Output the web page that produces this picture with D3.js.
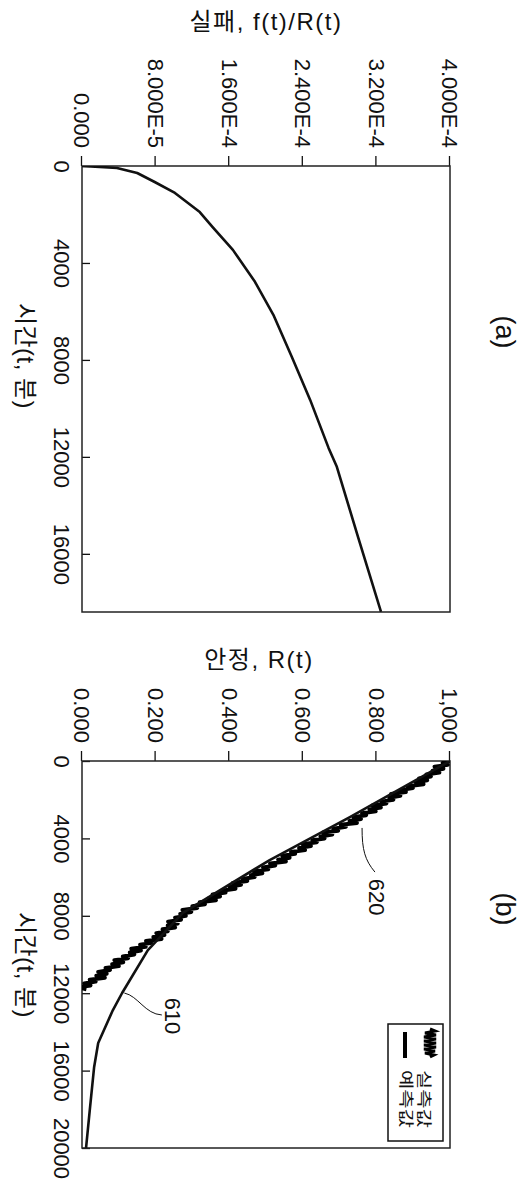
<!DOCTYPE html>
<html>
<head>
<meta charset="utf-8">
<script src="https://cdn.jsdelivr.net/npm/d3@7"></script>
<style>
  body { margin: 0; background: #fff; }
  svg { display: block; }
</style>
</head>
<body>
<script>
// (a) failure rate f(t)/R(t) vs time
const failTime = [0, 80, 290, 660, 1110, 1900, 2520, 3460, 4780, 6140, 7870, 9650, 11630, 12410, 15300, 18390];
const failValue = [0, 3.8e-5, 6.0e-5, 7.9e-5, 1.01e-4, 1.28e-4, 1.42e-4, 1.64e-4, 1.88e-4, 2.08e-4, 2.28e-4, 2.48e-4, 2.68e-4, 2.77e-4, 3.0e-4, 3.25e-4];
const failTicks = [0, 8e-5, 1.6e-4, 2.4e-4, 3.2e-4, 4e-4];
const failTickLabels = ["0.000", "8.000E-5", "1.600E-4", "2.400E-4", "3.200E-4", "4.000E-4"];
const timeTicksA = [0, 4000, 8000, 12000, 16000];

// (b) reliability R(t): predicted (610) and measured (620)
const predTime = [0, 2900, 5120, 7850, 9770, 11990, 12870, 14570, 15810, 17880, 20000];
const predR = [1.0, 0.728, 0.51, 0.274, 0.179, 0.109, 0.084, 0.044, 0.033, 0.022, 0.011];
const measTime = [0, 100, 200, 300, 400, 500, 600, 700, 800, 900, 1000, 1100, 1200, 1300, 1400, 1500, 1600, 1700, 1800, 1900,
  2000, 2100, 2200, 2300, 2400, 2500, 2600, 2700, 2800, 2900, 3000, 3100, 3200, 3300, 3400, 3500, 3600, 3700, 3800, 3900,
  4000, 4100, 4200, 4300, 4400, 4500, 4600, 4700, 4800, 4900, 5000, 5100, 5200, 5300, 5400, 5500, 5600, 5700, 5800, 5900,
  6000, 6100, 6200, 6300, 6400, 6500, 6600, 6700, 6800, 6900, 7000, 7100, 7200, 7300, 7400, 7500, 7600, 7700, 7800, 7900,
  8000, 8100, 8200, 8300, 8400, 8500, 8600, 8700, 8800, 8900, 9000, 9100, 9200, 9300, 9400, 9500, 9600, 9700, 9800, 9900,
  10000, 10100, 10200, 10300, 10400, 10500, 10600, 10700, 10800, 10900, 11000, 11100, 11200, 11300, 11400, 11500, 11600, 11700, 11800];
const measR = [1.000, 0.980, 0.994, 0.958, 0.982, 0.953, 0.971, 0.936, 0.948, 0.916, 0.938, 0.907, 0.928, 0.885, 0.899, 0.866, 0.880, 0.840, 0.865, 0.835,
  0.846, 0.814, 0.827, 0.789, 0.812, 0.781, 0.798, 0.761, 0.772, 0.738, 0.758, 0.727, 0.747, 0.703, 0.717, 0.683, 0.696, 0.655, 0.680, 0.648,
  0.659, 0.626, 0.638, 0.599, 0.622, 0.590, 0.606, 0.568, 0.579, 0.544, 0.564, 0.533, 0.554, 0.511, 0.525, 0.492, 0.506, 0.466, 0.490, 0.459,
  0.469, 0.436, 0.449, 0.410, 0.432, 0.401, 0.417, 0.379, 0.390, 0.355, 0.375, 0.344, 0.364, 0.320, 0.334, 0.300, 0.313, 0.273, 0.297, 0.267,
  0.282, 0.253, 0.269, 0.234, 0.260, 0.233, 0.253, 0.219, 0.233, 0.202, 0.224, 0.194, 0.216, 0.174, 0.189, 0.158, 0.173, 0.134, 0.160, 0.130,
  0.142, 0.111, 0.125, 0.088, 0.112, 0.082, 0.100, 0.064, 0.076, 0.044, 0.067, 0.039, 0.062, 0.021, 0.037, 0.006, 0.023, -0.010, 0.012];
const relTicks = [0, 0.2, 0.4, 0.6, 0.8, 1.0];
const relTickLabels = ["0.000", "0.200", "0.400", "0.600", "0.800", "1,000"];
const timeTicksB = [0, 4000, 8000, 12000, 16000, 20000];
const legendLabels = ["실측값", "예측값"];

const W = 525, H = 1180;
const FONT = "'Liberation Sans', Arial, 'Noto Sans CJK KR', sans-serif";
const INK = "#111";

const svg = d3.select("body").append("svg")
  .attr("width", W)
  .attr("height", H)
  .style("font-family", FONT);

// whole figure is drawn landscape then turned 90deg clockwise
const root = svg.append("g").attr("transform", `translate(${W},0) rotate(90)`);

function panel(o) {
  const g = root.append("g");
  const x = d3.scaleLinear().domain(o.xDomain).range(o.xRange);
  const y = d3.scaleLinear().domain(o.yDomain).range([443, 75]);

  g.append("clipPath").attr("id", o.id + "-clip")
    .append("rect")
    .attr("x", o.xRange[0]).attr("y", 75)
    .attr("width", o.xRange[1] - o.xRange[0]).attr("height", 368);

  const xAxis = g.append("g")
    .attr("transform", "translate(0,443)")
    .call(d3.axisBottom(x).tickValues(o.xTicks).tickSize(-8).tickPadding(12).tickFormat(d3.format("d")));
  const yAxis = g.append("g")
    .attr("transform", `translate(${o.xRange[0]},0)`)
    .call(d3.axisLeft(y).tickValues(o.yTicks).tickSize(10).tickPadding(8).tickFormat((d, i) => o.yLabels[i]));

  [xAxis, yAxis].forEach(a => {
    a.select(".domain").remove();
    a.selectAll("line").attr("stroke", INK).attr("stroke-width", 1.3);
    a.selectAll("text").attr("fill", INK).style("font-size", "22px").style("font-family", FONT);
  });

  g.append("rect")
    .attr("x", o.xRange[0]).attr("y", 75)
    .attr("width", o.xRange[1] - o.xRange[0]).attr("height", 368)
    .attr("fill", "none").attr("stroke", "#222").attr("stroke-width", 1.5);

  g.append("text")
    .attr("transform", `translate(${o.yTitlePos[0]},${o.yTitlePos[1]}) rotate(-90)`)
    .attr("text-anchor", "middle").attr("dy", "0.35em")
    .style("font-size", "24px").style("letter-spacing", "1.5px")
    .attr("fill", INK)
    .text(o.yTitle);

  g.append("text")
    .attr("x", o.xTitlePos[0]).attr("y", o.xTitlePos[1])
    .attr("text-anchor", "middle").attr("dy", "0.35em")
    .style("font-size", "24px").style("letter-spacing", "0.5px")
    .attr("fill", INK)
    .text("시간(t, 분)");

  g.append("text")
    .attr("x", o.tagPos[0]).attr("y", o.tagPos[1])
    .attr("text-anchor", "middle").attr("dy", "0.35em")
    .style("font-size", "27px")
    .attr("fill", INK)
    .text(o.tag);

  return { g, x, y };
}

// (a)
const pa = panel({
  id: "pa", tag: "(a)",
  xDomain: [0, 18400], xRange: [166, 612], xTicks: timeTicksA,
  yDomain: [0, 4e-4], yTicks: failTicks, yLabels: failTickLabels,
  yTitle: "실패, f(t)/R(t)", yTitlePos: [22, 259],
  xTitlePos: [356, 500], tagPos: [332, 20]
});

pa.g.append("path")
  .datum(d3.zip(failTime, failValue))
  .attr("clip-path", "url(#pa-clip)")
  .attr("fill", "none").attr("stroke", INK).attr("stroke-width", 2.6)
  .attr("stroke-linejoin", "round")
  .attr("d", d3.line().x(d => pa.x(d[0])).y(d => pa.y(d[1])));

// (b)
const pb = panel({
  id: "pb", tag: "(b)",
  xDomain: [0, 20000], xRange: [761, 1148], xTicks: timeTicksB,
  yDomain: [0, 1], yTicks: relTicks, yLabels: relTickLabels,
  yTitle: "안정, R(t)", yTitlePos: [660, 266],
  xTitlePos: [965, 500], tagPos: [909, 20]
});

pb.g.append("path")
  .datum(d3.zip(measTime, measR))
  .attr("clip-path", "url(#pb-clip)")
  .attr("fill", "none").attr("stroke", "#000").attr("stroke-width", 4)
  .attr("stroke-linejoin", "round")
  .attr("d", d3.line().x(d => pb.x(d[0])).y(d => pb.y(d[1])));

pb.g.append("path")
  .datum(d3.zip(predTime, predR))
  .attr("clip-path", "url(#pb-clip)")
  .attr("fill", "none").attr("stroke", INK).attr("stroke-width", 2.6)
  .attr("stroke-linejoin", "round")
  .attr("d", d3.line().x(d => pb.x(d[0])).y(d => pb.y(d[1])));

// callouts 620 / 610
const callouts = [
  { label: "620", from: [3460, 0.761], to: [5740, 0.796], at: [7030, 0.802], c1: [22, 0], c2: [-12, 10] },
  { label: "610", from: [11990, 0.115], to: [13126, 0.217], at: [13178, 0.247], c1: [3, -14], c2: [-1, 17] }
];
callouts.forEach(c => {
  const s = [pb.x(c.from[0]), pb.y(c.from[1])];
  const e = [pb.x(c.to[0]), pb.y(c.to[1])];
  const p = d3.path();
  p.moveTo(s[0], s[1]);
  p.bezierCurveTo(s[0] + c.c1[0], s[1] + c.c1[1], e[0] + c.c2[0], e[1] + c.c2[1], e[0], e[1]);
  pb.g.append("path").attr("d", p.toString())
    .attr("fill", "none").attr("stroke", INK).attr("stroke-width", 1);
  pb.g.append("text")
    .attr("x", pb.x(c.at[0])).attr("y", pb.y(c.at[1]))
    .attr("text-anchor", "middle").attr("dy", "0.35em")
    .style("font-size", "22px").attr("fill", INK)
    .text(c.label);
});

// legend
const lg = pb.g.append("g").attr("transform", "translate(1024,82)");
lg.append("rect").attr("width", 117).attr("height", 55)
  .attr("fill", "#fff").attr("stroke", INK).attr("stroke-width", 1.5);

const squiggle = [[5, 13], [7, 8], [9, 18], [11, 7], [13, 19], [15, 7], [17, 19], [19, 7], [21, 19], [23, 7], [25, 19], [27, 8], [29, 18], [31, 9], [33, 13]];
lg.append("path")
  .attr("d", d3.line()(squiggle))
  .attr("fill", "none").attr("stroke", "#000").attr("stroke-width", 3);
lg.append("line").attr("x1", 8).attr("x2", 34).attr("y1", 38).attr("y2", 38)
  .attr("stroke", "#000").attr("stroke-width", 4);

legendLabels.forEach((t, i) => {
  lg.append("text")
    .attr("x", 46).attr("y", 19 + i * 18)
    .attr("dy", "0.35em")
    .attr("textLength", 58).attr("lengthAdjust", "spacingAndGlyphs")
    .style("font-size", "15px").attr("fill", INK)
    .text(t);
});
</script>
</body>
</html>
